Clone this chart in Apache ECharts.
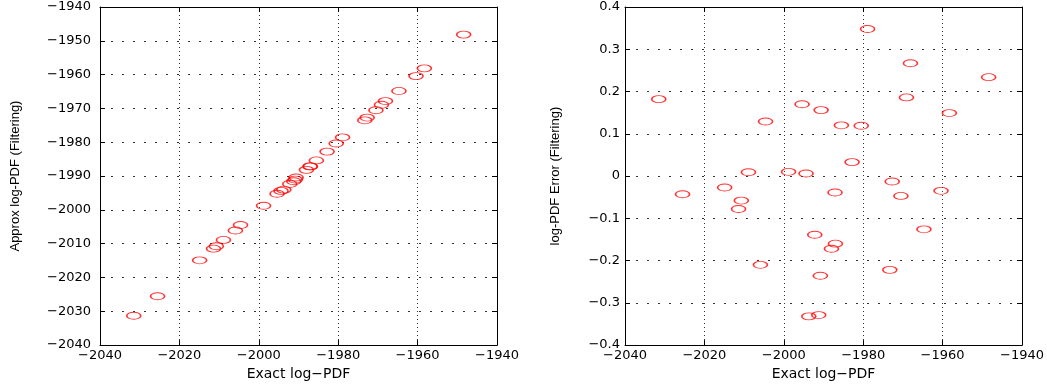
<!DOCTYPE html>
<html>
<head>
<meta charset="utf-8">
<script src="https://cdn.jsdelivr.net/npm/echarts@6/dist/echarts.min.js"></script>
<style>
  html, body { margin: 0; background: #fff; }
  #chart { width: 1047px; height: 386px; }
</style>
</head>
<body>
<div id="chart"></div>
<script>
// exact log-PDF (x of both panels)
const exactLogPdf = [
  -2031.5, -2025.5, -2014.9, -2008.9, -2004.6, -2010.7, -2011.4, -2005.9,
  -1998.8, -1995.4, -1994.4, -1993.7, -1992.2, -1991.2, -1990.6, -1990.8,
  -1988.0, -1987.1, -1987.0, -1985.5, -1982.8, -1980.5, -1978.9, -1973.3,
  -1972.7, -1970.5, -1969.1, -1968.1, -1964.7, -1960.4, -1958.3, -1948.4
];
// approx log-PDF from filtering (left panel)
const approxLogPdf = [
  -2031.32, -2025.54, -2014.93, -2008.89, -2004.47, -2010.76, -2011.48, -2006.11,
  -1998.79, -1995.23, -1994.39, -1994.03, -1992.34, -1991.53, -1990.44, -1991.04,
  -1988.17, -1987.14, -1987.16, -1985.38, -1982.77, -1980.38, -1978.55, -1973.52,
  -1972.71, -1970.55, -1968.91, -1967.83, -1964.83, -1960.44, -1958.15, -1948.17
];
// log-PDF error (right panel)
const logPdfError = [
  0.182, -0.043, -0.027, 0.009, 0.129, -0.058, -0.078, -0.210,
  0.010, 0.170, 0.006, -0.332, -0.139, -0.329, 0.156, -0.236,
  -0.172, -0.039, -0.160, 0.120, 0.033, 0.119, 0.348, -0.222,
  -0.013, -0.047, 0.186, 0.267, -0.126, -0.035, 0.149, 0.234
];

const xRange = [-2040, -1940];
const approxRange = [-2040, -1940];
const errorRange = [-0.4, 0.4];
const xLabel = 'Exact log\u2212PDF';
const leftYLabel = 'Approx log-PDF (Filtering)';
const rightYLabel = 'log-PDF Error (Filtering)';

const minus = (s) => String(s).replace('-', '\u2212');
const tickFont = { fontFamily: 'DejaVu Sans', fontSize: 13, color: '#000' };
const titleFont = { fontFamily: 'Liberation Sans', fontSize: 13, color: '#000' };

function xAxis(gridIndex, top) {
  return {
    gridIndex,
    type: 'value',
    position: top ? 'top' : 'bottom',
    min: xRange[0],
    max: xRange[1],
    interval: 20,
    name: top ? '' : xLabel,
    nameLocation: 'middle',
    nameGap: 16,
    nameTextStyle: { fontFamily: 'DejaVu Sans', fontSize: 14, color: '#000' },
    axisLine: { onZero: false, lineStyle: { color: '#000', width: 1 } },
    axisTick: { inside: true, length: 5, lineStyle: { color: '#000' } },
    axisLabel: {
      show: !top,
      ...tickFont,
      margin: 4,
      showMinLabel: true,
      showMaxLabel: true,
      formatter: minus
    },
    splitLine: { show: !top, lineStyle: { color: '#333', width: 1, type: [1, 3] } }
  };
}

function yAxis(gridIndex, right, range, interval, name, gap, fmt) {
  return {
    gridIndex,
    type: 'value',
    position: right ? 'right' : 'left',
    min: range[0],
    max: range[1],
    interval,
    name: right ? '' : name,
    nameLocation: 'middle',
    nameRotate: 90,
    nameGap: gap,
    nameTextStyle: titleFont,
    axisLine: { onZero: false, lineStyle: { color: '#000', width: 1 } },
    axisTick: { inside: true, length: 5, lineStyle: { color: '#000' } },
    axisLabel: {
      show: !right,
      ...tickFont,
      margin: gridIndex === 0 ? 9 : 5,
      showMinLabel: true,
      showMaxLabel: true,
      formatter: fmt
    },
    splitLine: { show: !right, lineStyle: { color: '#333', width: 1, type: [2, 9] } }
  };
}

const errFmt = (v) => (Math.abs(v) < 1e-9 ? '0' : minus(v.toFixed(1)));

const marker = {
  type: 'scatter',
  symbol: 'circle',
  symbolSize: [14, 7],
  itemStyle: { color: 'transparent', borderColor: '#ff0000', borderWidth: 1.2 },
  silent: true
};

const chart = echarts.init(document.getElementById('chart'));
chart.setOption({
  animation: false,
  backgroundColor: '#fff',
  grid: [
    { left: 100, top: 7, width: 397, height: 347 },
    { left: 625, top: 7, width: 398, height: 347 }
  ],
  xAxis: [xAxis(0, false), xAxis(0, true), xAxis(1, false), xAxis(1, true)],
  yAxis: [
    yAxis(0, false, approxRange, 10, leftYLabel, 78, minus),
    yAxis(0, true, approxRange, 10, leftYLabel, 78, minus),
    yAxis(1, false, errorRange, 0.1, rightYLabel, 63, errFmt),
    yAxis(1, true, errorRange, 0.1, rightYLabel, 63, errFmt)
  ],
  series: [
    {
      ...marker,
      xAxisIndex: 0,
      yAxisIndex: 0,
      data: exactLogPdf.map((x, i) => [x, approxLogPdf[i]])
    },
    {
      ...marker,
      xAxisIndex: 2,
      yAxisIndex: 2,
      data: exactLogPdf.map((x, i) => [x, logPdfError[i]])
    }
  ]
});
</script>
</body>
</html>
